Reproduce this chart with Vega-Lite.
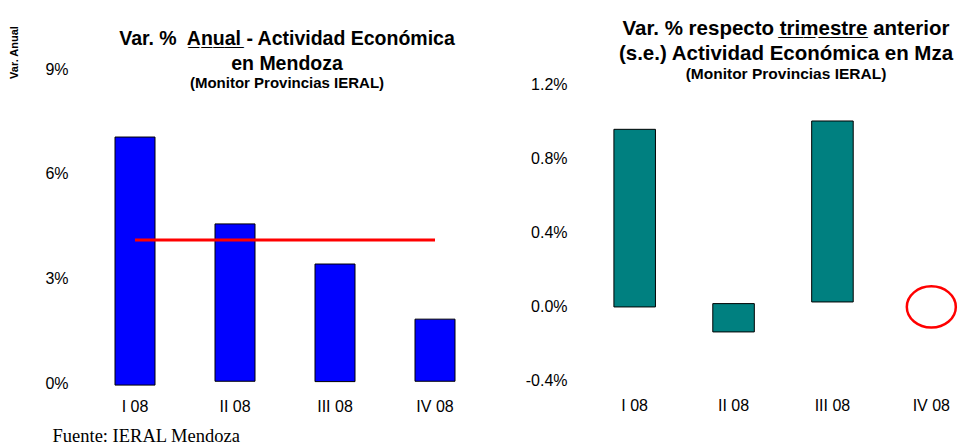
{
  "$schema": "https://vega.github.io/schema/vega-lite/v6.json",
  "background": "white",
  "padding": {"left": 8, "top": 19, "right": 0, "bottom": 0},
  "bounds": "flush",
  "spacing": 121,
  "config": {
    "view": {"stroke": null},
    "axis": {"domain": false, "ticks": false, "grid": false, "labelFont": "Liberation Sans", "labelFontSize": 16, "labelColor": "black", "labelAngle": 0},
    "title": {"font": "Liberation Sans", "fontWeight": "bold", "color": "black", "subtitleFont": "Liberation Sans", "subtitleFontWeight": "bold", "subtitleColor": "black", "frame": "group", "anchor": "middle"}
  },
  "hconcat": [
    {
      "width": 400,
      "height": 314,
      "title": {
        "text": ["Var. %\u00a0 A\u0332n\u0332u\u0332a\u0332l\u0332 - Actividad Económica", "en Mendoza"],
        "subtitle": "(Monitor Provincias IERAL)",
        "fontSize": 19.5,
        "lineHeight": 25,
        "subtitleFontSize": 15,
        "subtitlePadding": 2,
        "dx": 2,
        "offset": -67
      },
      "layer": [
        {
          "data": {"values": [
            {"quarter": "I 08", "value": 7.05, "base": -0.06},
            {"quarter": "II 08", "value": 4.56, "base": 0.05},
            {"quarter": "III 08", "value": 3.41, "base": 0.04},
            {"quarter": "IV 08", "value": 1.83, "base": 0.05}
          ]},
          "mark": {"type": "bar", "fill": "#0000FF", "stroke": "black", "strokeWidth": 1},
          "encoding": {
            "x": {
              "field": "quarter", "type": "nominal",
              "scale": {"domain": ["I 08", "II 08", "III 08", "IV 08"], "paddingInner": 0.6, "paddingOuter": 0.3},
              "axis": {
                "labelPadding": 15,
                "title": "Fuente: IERAL Mendoza",
                "titleFont": "Liberation Serif", "titleFontSize": 18.5, "titleFontWeight": "normal", "titleColor": "black",
                "titleX": -33, "titleY": 58, "titleAlign": "left", "titleBaseline": "alphabetic"
              }
            },
            "y": {
              "field": "value", "type": "quantitative",
              "scale": {"domain": [0, 9], "nice": false, "zero": false},
              "axis": {
                "values": [0, 3, 6, 9],
                "labelExpr": "datum.value + '%'",
                "labelPadding": 17,
                "title": "Var. Anual",
                "titleFont": "Liberation Sans", "titleFontSize": 11, "titleFontWeight": "bold", "titleColor": "black",
                "titleAngle": 270, "titleX": -71, "titleY": -17, "titleAlign": "center", "titleBaseline": "middle"
              }
            },
            "y2": {"field": "base"}
          }
        },
        {
          "data": {"values": [{"from": "I 08", "to": "IV 08", "avg": 4.1}]},
          "mark": {"type": "rule", "stroke": "#FF0000", "strokeWidth": 3},
          "encoding": {
            "x": {"field": "from", "type": "nominal"},
            "x2": {"field": "to"},
            "y": {"field": "avg", "type": "quantitative"}
          }
        }
      ]
    },
    {
      "width": 354,
      "height": 314,
      "title": {
        "text": ["Var. % respecto t\u0332r\u0332i\u0332m\u0332e\u0332s\u0332t\u0332r\u0332e\u0332 anterior", "(s.e.) Actividad Económica en Mza"],
        "subtitle": "(Monitor Provincias IERAL)",
        "fontSize": 20.5,
        "lineHeight": 25,
        "subtitleFontSize": 15.5,
        "subtitlePadding": 2,
        "dx": 3,
        "offset": -13
      },
      "layer": [
        {
          "data": {"values": [
            {"quarter": "I 08", "value": 0.96, "base": 0},
            {"quarter": "II 08", "value": 0.018, "base": -0.135},
            {"quarter": "III 08", "value": 1.005, "base": 0.027}
          ]},
          "mark": {"type": "bar", "fill": "#008080", "stroke": "black", "strokeWidth": 1},
          "encoding": {
            "x": {
              "field": "quarter", "type": "nominal",
              "scale": {"domain": ["I 08", "II 08", "III 08", "IV 08"], "paddingInner": 0.58, "paddingOuter": 0.08},
              "axis": {"labelPadding": 14, "title": null}
            },
            "y": {
              "field": "value", "type": "quantitative",
              "scale": {"domain": [-0.411, 1.286], "nice": false, "zero": false},
              "axis": {
                "values": [-0.4, 0, 0.4, 0.8, 1.2],
                "labelExpr": "replace(format(datum.value, '.1f'), '\u2212', '-') + '%'",
                "labelPadding": 39,
                "title": null
              }
            },
            "y2": {"field": "base"}
          }
        },
        {
          "data": {"values": [{"quarter": "IV 08", "value": 0}]},
          "mark": {"type": "point", "shape": "M-1,0A1,0.84,0,1,1,1,0A1,0.84,0,1,1,-1,0Z", "size": 2401, "filled": false, "stroke": "#FF0000", "strokeWidth": 2.5, "opacity": 1},
          "encoding": {
            "x": {"field": "quarter", "type": "nominal"},
            "y": {"field": "value", "type": "quantitative"}
          }
        }
      ]
    }
  ]
}
